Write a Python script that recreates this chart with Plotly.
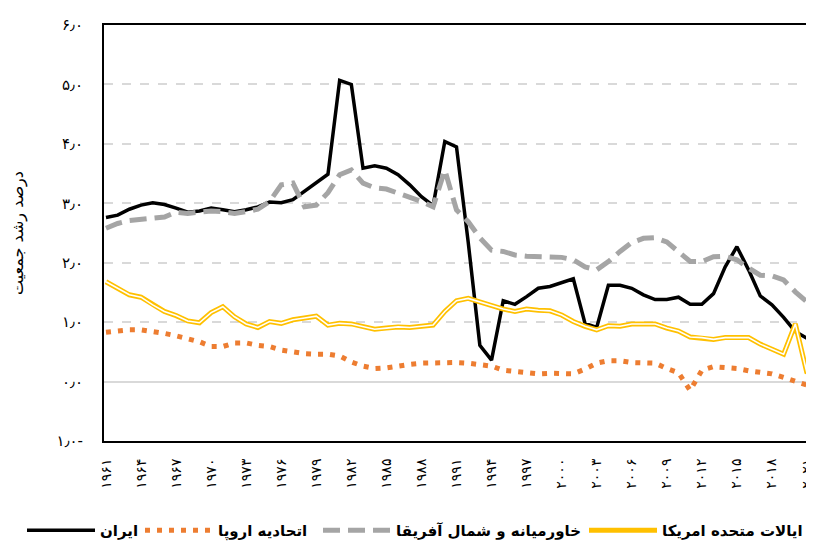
import plotly.graph_objects as go

years = list(range(1961, 2023))

iran = [2.76, 2.80, 2.90, 2.97, 3.01, 2.98, 2.92, 2.85, 2.87, 2.92,
        2.89, 2.86, 2.89, 2.94, 3.02, 3.01, 3.06, 3.20, 3.35, 3.49,
        5.07, 5.00, 3.59, 3.63, 3.59, 3.48, 3.31, 3.11, 2.96, 4.04,
        3.95, 2.35, 0.61, 0.36, 1.36, 1.30, 1.43, 1.57, 1.60, 1.66,
        1.73, 0.98, 0.91, 1.62, 1.62, 1.57, 1.46, 1.38, 1.38, 1.42,
        1.30, 1.30, 1.48, 1.93, 2.27, 1.88, 1.44, 1.29, 1.08, 0.84,
        0.73, 0.71]

eu = [0.83, 0.86, 0.87, 0.87, 0.85, 0.81, 0.77, 0.73, 0.67, 0.59,
      0.59, 0.65, 0.65, 0.61, 0.59, 0.53, 0.49, 0.47, 0.46, 0.46,
      0.43, 0.33, 0.26, 0.22, 0.23, 0.27, 0.29, 0.31, 0.32, 0.32,
      0.32, 0.31, 0.29, 0.26, 0.19, 0.17, 0.14, 0.13, 0.14, 0.14,
      0.13, 0.21, 0.31, 0.35, 0.35, 0.32, 0.32, 0.31, 0.22, 0.15,
      -0.15, 0.19, 0.25, 0.24, 0.22, 0.18, 0.15, 0.13, 0.07, 0.00,
      -0.06, -0.04]

mena = [2.58, 2.66, 2.71, 2.73, 2.75, 2.77, 2.85, 2.83, 2.85, 2.87,
        2.86, 2.83, 2.86, 2.90, 3.03, 3.31, 3.34, 2.94, 2.97, 3.18,
        3.48, 3.56, 3.34, 3.26, 3.24, 3.17, 3.11, 3.03, 2.94, 3.56,
        2.89, 2.69, 2.42, 2.21, 2.19, 2.13, 2.11, 2.10, 2.09, 2.09,
        2.05, 1.93, 1.88, 2.02, 2.19, 2.34, 2.41, 2.42, 2.35, 2.19,
        2.02, 2.02, 2.10, 2.11, 2.05, 1.91, 1.79, 1.78, 1.71, 1.51,
        1.34, 1.55]

usa = [1.68, 1.57, 1.46, 1.42, 1.29, 1.18, 1.11, 1.02, 0.99, 1.16,
       1.26, 1.09, 0.97, 0.91, 1.01, 0.98, 1.04, 1.07, 1.10, 0.95,
       0.98, 0.97, 0.92, 0.88, 0.90, 0.92, 0.91, 0.93, 0.95, 1.18,
       1.36, 1.40, 1.34, 1.27, 1.22, 1.18, 1.22, 1.20, 1.19, 1.12,
       1.01, 0.93, 0.87, 0.94, 0.93, 0.97, 0.97, 0.97, 0.90, 0.85,
       0.75, 0.74, 0.71, 0.74, 0.74, 0.74, 0.63, 0.54, 0.46, 0.97,
       0.14, 0.38]

names = ["ایران", "اتحادیه اروپا", "خاورمیانه و شمال آفریقا", "ایالات متحده امریکا"]
y_title = "درصد رشد جمعیت"

x_tick_years = list(range(1961, 2022, 3))
y_tick_vals = [-1, 0, 1, 2, 3, 4, 5, 6]

fa = str.maketrans("0123456789", "۰۱۲۳۴۵۶۷۸۹")
x_tick_text = [str(y).translate(fa) for y in x_tick_years]
y_tick_text = [("%.1f" % abs(v)).replace(".", "٫").translate(fa) + ("-" if v < 0 else "")
               for v in y_tick_vals]

FONT = "DejaVu Sans"
W, H = 806, 539
ML, MT, MB = 96, 17, 106
PW = W - ML

fig = go.Figure()
fig.add_trace(go.Scatter(x=years, y=iran, mode="lines", name=names[0], legend="legend",
                         line=dict(color="#000000", width=3.5)))
fig.add_trace(go.Scatter(x=years, y=eu, mode="lines", name=names[1], legend="legend2",
                         line=dict(color="#ED7D31", width=5, dash="5px,7px")))
fig.add_trace(go.Scatter(x=years, y=mena, mode="lines", name=names[2], legend="legend3",
                         line=dict(color="#A5A5A5", width=5, dash="17px,8px")))
fig.add_trace(go.Scatter(x=years, y=usa, mode="lines", name=names[3], legend="legend4",
                         line=dict(color="#FFC000", width=5)))
fig.add_trace(go.Scatter(x=years, y=usa, mode="lines", showlegend=False,
                         hoverinfo="skip",
                         line=dict(color="#FFFFFF", width=1.6)))


def leg(px):
    return dict(orientation="h", x=(px - ML) / PW, xanchor="left",
                y=-0.215, yanchor="middle", itemwidth=68,
                font=dict(size=15, family=FONT, color="#000000", weight="bold"),
                bgcolor="rgba(0,0,0,0)")


fig.update_layout(
    width=W, height=H,
    margin=dict(l=ML, r=0, t=MT, b=MB, autoexpand=False),
    paper_bgcolor="white", plot_bgcolor="white",
    font=dict(family=FONT, color="#000000"),
    legend=leg(14), legend2=leg(132), legend3=leg(310), legend4=leg(576),
    showlegend=True,
)

fig.update_xaxes(
    automargin=False,
    range=[1960.83, 2021.6],
    tickmode="array", tickvals=x_tick_years, ticktext=x_tick_text,
    tickangle=-90, tickfont=dict(size=14, family=FONT, color="#000000"),
    ticklabelstandoff=10, ticklabeloverflow="allow",
    showgrid=False, zeroline=False,
    showline=True, linecolor="#000000", linewidth=2, mirror=True,
    ticks="",
)
fig.update_yaxes(
    automargin=False,
    range=[-1, 6],
    tickmode="array", tickvals=y_tick_vals, ticktext=y_tick_text,
    tickfont=dict(size=15, family=FONT, color="#000000"),
    ticklabelstandoff=16,
    showgrid=True, gridcolor="#D9D9D9", griddash="dash", gridwidth=1.5,
    zeroline=True, zerolinecolor="#D9D9D9", zerolinewidth=2,
    showline=True, linecolor="#000000", linewidth=2, mirror=False,
    ticks="",
    title=dict(text=y_title, font=dict(size=16, family=FONT, color="#000000"), standoff=30),
)

fig.write_html("out.html")
